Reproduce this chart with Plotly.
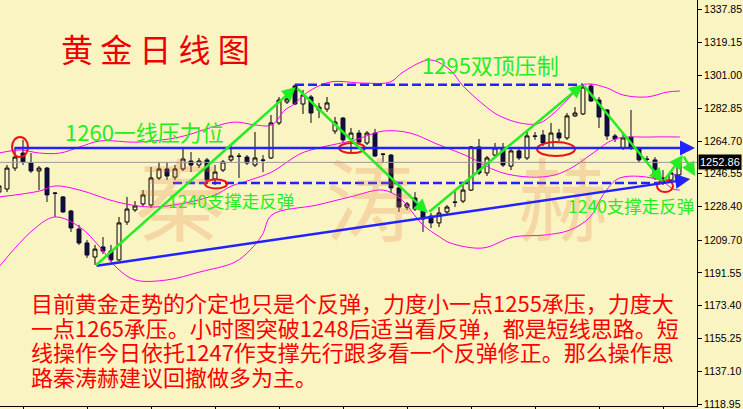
import plotly.graph_objects as go

# ---------------- data ----------------
idx = list(range(86))
opens = [1236.4, 1238.1, 1249.7, 1258.0, 1252.5, 1248.1, 1249.7, 1235.9, 1233.7, 1225.9,
         1215.9, 1208.2, 1200.4, 1206.0, 1203.7, 1198.8, 1219.8, 1226.5, 1229.8, 1229.2,
         1244.2, 1249.2, 1244.7, 1249.2, 1253.6, 1251.4, 1254.2, 1243.6, 1248.6, 1254.2,
         1256.4, 1255.8, 1251.4, 1254.2, 1255.3, 1274.7, 1286.3, 1295.2, 1285.2, 1289.1,
         1281.9, 1282.4, 1270.2, 1277.4, 1265.8, 1269.1, 1263.6, 1269.1, 1257.5, 1256.9,
         1238.7, 1228.1, 1233.1, 1226.5, 1223.1, 1219.3, 1225.4, 1230.9, 1231.4, 1237.5,
         1261.4, 1247.0, 1256.9, 1260.8, 1250.8, 1259.2, 1255.3, 1267.5, 1268.0, 1260.8,
         1269.1, 1266.4, 1278.6, 1279.7, 1295.2, 1287.4, 1281.9, 1267.5, 1260.8, 1266.9,
         1260.8, 1254.7, 1254.2, 1244.2, 1243.1, 1245.9]
highs = [1241.4, 1251.4, 1260.8, 1265.3, 1258.0, 1250.8, 1250.3, 1236.4, 1234.2, 1226.5,
         1218.2, 1209.8, 1207.1, 1211.5, 1207.1, 1222.6, 1233.7, 1231.4, 1237.5, 1250.3,
         1253.1, 1253.1, 1251.4, 1261.4, 1258.6, 1255.3, 1255.3, 1251.4, 1254.2, 1261.9,
         1258.0, 1256.9, 1269.7, 1256.9, 1279.1, 1289.1, 1293.0, 1296.3, 1293.0, 1290.2,
         1285.8, 1289.1, 1278.0, 1278.0, 1271.9, 1270.8, 1270.2, 1271.4, 1258.0, 1257.5,
         1239.2, 1230.9, 1236.4, 1228.1, 1224.8, 1228.1, 1229.2, 1237.5, 1240.3, 1261.9,
         1265.8, 1256.4, 1263.6, 1263.6, 1261.4, 1261.4, 1270.2, 1269.7, 1270.8, 1274.7,
         1271.4, 1280.2, 1283.5, 1295.7, 1296.3, 1289.1, 1282.4, 1268.6, 1269.1, 1281.9,
         1261.4, 1256.4, 1255.8, 1248.6, 1248.1, 1254.7]
lows = [1235.3, 1236.4, 1248.1, 1251.4, 1247.0, 1237.5, 1230.9, 1222.6, 1224.8, 1214.3,
        1207.1, 1199.9, 1196.0, 1202.1, 1197.6, 1198.2, 1218.2, 1225.4, 1228.7, 1227.6,
        1243.1, 1243.1, 1243.1, 1248.1, 1247.5, 1249.7, 1242.0, 1240.3, 1247.5, 1253.1,
        1244.2, 1251.4, 1250.3, 1247.5, 1254.7, 1273.6, 1285.2, 1284.7, 1279.7, 1274.7,
        1277.4, 1280.8, 1268.6, 1264.1, 1258.0, 1263.0, 1262.5, 1255.8, 1252.5, 1235.9,
        1225.4, 1226.5, 1225.9, 1214.3, 1216.5, 1217.0, 1223.7, 1228.1, 1230.3, 1237.0,
        1245.9, 1245.3, 1255.8, 1250.3, 1248.6, 1254.2, 1254.2, 1265.3, 1261.9, 1260.3,
        1264.7, 1265.3, 1278.0, 1279.1, 1286.3, 1271.9, 1265.3, 1264.1, 1259.7, 1259.7,
        1253.1, 1253.1, 1243.1, 1240.3, 1242.0, 1245.3]
closes = [1239.8, 1249.7, 1255.8, 1253.1, 1248.1, 1249.7, 1234.8, 1235.7, 1225.4, 1216.5,
          1208.2, 1201.5, 1204.8, 1203.7, 1198.8, 1219.3, 1227.0, 1228.7, 1234.8, 1244.2,
          1249.2, 1245.3, 1249.2, 1254.7, 1251.4, 1253.6, 1243.1, 1247.5, 1253.1, 1256.4,
          1256.2, 1252.5, 1255.3, 1254.0, 1274.7, 1287.4, 1288.0, 1285.2, 1290.2, 1280.2,
          1283.5, 1285.8, 1275.2, 1265.3, 1269.1, 1264.1, 1269.1, 1256.4, 1257.3, 1238.7,
          1228.1, 1229.8, 1227.0, 1221.5, 1219.3, 1224.8, 1228.1, 1230.7, 1237.5, 1261.4,
          1247.0, 1255.3, 1260.8, 1251.4, 1259.2, 1255.3, 1267.5, 1267.3, 1263.6, 1269.1,
          1266.4, 1278.6, 1280.2, 1294.6, 1286.9, 1278.0, 1267.5, 1265.8, 1266.4, 1260.8,
          1254.2, 1254.5, 1244.2, 1241.4, 1247.0, 1252.86]

# Bollinger bands (index, price)
upper_x = [0, 2.6, 5.1, 7.6, 10.1, 12.6, 17.4, 22.6, 26.75, 29.5, 32, 34.1, 35.75, 36.75,
           38.6, 41.4, 45.5, 48.9, 50.5, 53.9, 56.4, 58, 61.4, 62.6, 65.1, 67.6, 71.4,
           72.6, 73.9, 76, 78, 81, 83.5, 85.1]
upper_y = [1258.0, 1259.7, 1258.0, 1258.0, 1261.4, 1264.7, 1264.1, 1266.9, 1272.5, 1275.2,
           1273.6, 1273.6, 1281.9, 1284.7, 1291.8, 1297.4, 1296.8, 1297.4, 1302.9, 1309.6,
           1304.0, 1295.2, 1281.9, 1278.6, 1274.7, 1274.7, 1289.1, 1295.2, 1296.3, 1294.1,
           1290.2, 1289.1, 1291.8, 1292.4]
mid_x = [0, 5.1, 7, 10.1, 14.75, 18.9, 22.6, 27, 29.1, 31.4, 34.1, 37.6, 39.9, 44.5, 48,
         51.4, 54.75, 58.5, 62.6, 66.4, 69.5, 71.75, 74.25, 77, 81.4, 85.1]
mid_y = [1233.7, 1237.0, 1239.8, 1237.5, 1230.9, 1228.1, 1229.8, 1234.8, 1239.8, 1243.1,
         1247.5, 1257.5, 1260.8, 1265.3, 1270.2, 1269.1, 1263.0, 1256.4, 1247.5, 1244.7,
         1245.9, 1250.3, 1258.0, 1265.8, 1266.9, 1266.9]
lower_x = [0, 4.25, 7, 10.1, 12.6, 14.75, 17, 21, 25.1, 29.5, 31.4, 32.9, 34.1, 39.75,
           43.9, 48, 50.1, 53, 55.1, 56.4, 60.5, 64.25, 68.25, 71.4, 73.9, 75.5, 77.6,
           82.6, 84.25, 85.1]
lower_y = [1194.9, 1215.4, 1222.6, 1217.0, 1206.0, 1194.3, 1187.7, 1187.7, 1192.1, 1197.6,
           1204.3, 1212.6, 1223.7, 1229.2, 1233.7, 1237.5, 1233.1, 1218.2, 1211.5, 1208.2,
           1205.4, 1211.5, 1212.6, 1215.4, 1222.6, 1234.8, 1244.2, 1243.1, 1238.1, 1237.5]

tick_vals = [1337.85, 1319.15, 1301.00, 1282.85, 1264.70, 1246.55, 1228.40, 1209.70,
             1191.55, 1173.40, 1155.25, 1137.10, 1118.95]
tick_text = ["%.2f" % v for v in tick_vals]
last_price = 1252.86

resist_1260 = 1260.8
support_1240 = 1241.4
top_1295 = 1295.9

# zig-zag turning points (index, price)
zig_x = [12, 37.1, 53.6, 73.0, 83.0, 85.5, 87.0]
zig_y = [1195.4, 1294.6, 1224.8, 1296.0, 1242.0, 1256.9, 1245.3]
trend_x = [12, 86.4]
trend_y = [1195.4, 1243.6]

title_text = "黄金日线图"
label_1260 = "1260一线压力位"
label_1295 = "1295双顶压制"
label_1240 = "1240支撑走反弹"
para_lines = [
    "目前黄金走势的介定也只是个反弹，力度小一点1255承压，力度大",
    "一点1265承压。小时图突破1248后适当看反弹，都是短线思路。短",
    "线操作今日依托1247作支撑先行跟多看一个反弹修正。那么操作思",
    "路秦涛赫建议回撤做多为主。",
]
watermark = ["秦", "涛", "赫"]

# ---------------- figure ----------------
BG = "#faf3c2"
GREEN = "#22ee22"
BLUE = "#2222ff"
RED = "#ff0000"
MAG = "#ff00ff"
CJK = "Noto Sans CJK SC"
W, H = 743, 409
PW, PH = 697, 406


def fx(p):
    return p / PW


def fy(p):
    return 1 - p / PH


fig = go.Figure()

for bx, by in [(upper_x, upper_y), (mid_x, mid_y), (lower_x, lower_y)]:
    fig.add_trace(go.Scatter(x=bx, y=by, mode="lines", line=dict(color=MAG, width=1, shape="spline"),
                             hoverinfo="skip"))

fig.add_trace(go.Candlestick(
    x=idx, open=opens, high=highs, low=lows, close=closes,
    increasing=dict(line=dict(color="#000000", width=1), fillcolor=BG),
    decreasing=dict(line=dict(color="#0a0a30", width=1), fillcolor="#10103c"),
    whiskerwidth=0, hoverinfo="skip",
))

shapes = []
# current price line
shapes.append(dict(type="line", xref="paper", x0=0, x1=1, yref="y", y0=last_price, y1=last_price,
                   line=dict(color="#9a9a9a", width=1)))
# dashed support / double top
shapes.append(dict(type="line", xref="x", yref="y", x0=21.75, x1=82.6, y0=support_1240, y1=support_1240,
                   line=dict(color=BLUE, width=2.5, dash="9px,4px")))
shapes.append(dict(type="line", xref="x", yref="y", x0=37.0, x1=73.0, y0=top_1295, y1=top_1295,
                   line=dict(color=BLUE, width=2.5, dash="9px,4px")))
# red ellipses
for x0, x1, y0, y1 in [(1.625, 3.625, 1255.8, 1266.9), (25.75, 28.5, 1238.4, 1243.4),
                       (42.5, 45.75, 1258.0, 1263.6), (67.25, 72.0, 1256.4, 1264.1),
                       (82.25, 84.25, 1236.4, 1243.1)]:
    shapes.append(dict(type="circle", xref="x", yref="y", x0=x0, x1=x1, y0=y0, y1=y1,
                       line=dict(color="#ee1111", width=2)))

ann = []
# watermark
for ch, cx in zip(watermark, [180, 370, 563]):
    ann.append(dict(text=ch, xref="paper", yref="paper", x=fx(cx), y=fy(195), showarrow=False,
                    font=dict(family=CJK, size=90, color="rgba(232,125,70,0.24)"),
                    xanchor="center", yanchor="middle"))

# arrows: horizontal 1260, trend line, zigzag
ann.append(dict(x=87.0, y=resist_1260, ax=1.75, ay=resist_1260, xref="x", yref="y", axref="x", ayref="y",
                text="", showarrow=True, arrowhead=2, arrowsize=1.2, arrowwidth=2.5, arrowcolor=BLUE))
ann.append(dict(x=trend_x[1], y=trend_y[1], ax=trend_x[0], ay=trend_y[0], xref="x", yref="y",
                axref="x", ayref="y", text="", showarrow=True, arrowhead=2, arrowsize=1.2,
                arrowwidth=2.5, arrowcolor=BLUE))
for i in range(len(zig_x) - 1):
    ann.append(dict(x=zig_x[i + 1], y=zig_y[i + 1], ax=zig_x[i], ay=zig_y[i], xref="x", yref="y",
                    axref="x", ayref="y", text="", showarrow=True, arrowhead=2, arrowsize=1.1,
                    arrowwidth=2.5, arrowcolor=GREEN))

# texts
ann.append(dict(text=" ".join(title_text), xref="paper", yref="paper", x=fx(155), y=fy(48),
                showarrow=False, font=dict(family=CJK, size=32, color="#ee0000"),
                xanchor="center", yanchor="middle"))
ann.append(dict(text=label_1260, xref="paper", yref="paper", x=fx(63), y=fy(131), showarrow=False,
                font=dict(family=CJK, size=22, color=GREEN), xanchor="left", yanchor="middle"))
ann.append(dict(text=label_1295, xref="paper", yref="paper", x=fx(420), y=fy(64), showarrow=False,
                font=dict(family=CJK, size=22, color=GREEN), xanchor="left", yanchor="middle"))
ann.append(dict(text=label_1240, xref="paper", yref="paper", x=fx(166), y=fy(200), showarrow=False,
                font=dict(family=CJK, size=17.5, color=GREEN), xanchor="left", yanchor="middle"))
ann.append(dict(text=label_1240, xref="paper", yref="paper", x=fx(566), y=fy(205), showarrow=False,
                font=dict(family=CJK, size=17.5, color=GREEN), xanchor="left", yanchor="middle"))
for line, cy in zip(para_lines, [302, 327, 351, 376]):
    ann.append(dict(text=line, xref="paper", yref="paper", x=fx(29), y=fy(cy), showarrow=False,
                    font=dict(family=CJK, size=22, color=RED), xanchor="left", yanchor="middle"))
# current price tag
ann.append(dict(text="%.2f" % last_price, xref="paper", yref="y", x=1.0, y=last_price, showarrow=False,
                xanchor="left", yanchor="middle", bgcolor="#000000", borderpad=1, xshift=1,
                font=dict(family="Liberation Sans", size=11, color="#ffffff")))

fig.update_layout(
    width=W, height=H, margin=dict(l=0, r=W - PW, t=0, b=H - PH),
    paper_bgcolor=BG, plot_bgcolor=BG, showlegend=False, hovermode=False,
    shapes=shapes, annotations=ann,
    xaxis=dict(range=[0.125, 87.25], showgrid=False, zeroline=False, showticklabels=False,
               ticks="outside", ticklen=3, tickcolor="#000", tickvals=list(range(3, 86, 8)),
               showline=True, linecolor="#000", linewidth=1, rangeslider=dict(visible=False),
               fixedrange=True),
    yaxis=dict(range=[1117.84, 1342.84], side="right", showgrid=False, zeroline=False,
               tickvals=tick_vals, ticktext=tick_text, ticks="outside", ticklen=4, tickcolor="#000",
               showline=True, linecolor="#000", linewidth=1, automargin=False,
               ticklabeloverflow="allow",
               tickfont=dict(family="Liberation Sans", size=10.5, color="#000")),
)

fig.write_html("out.html", config={"displayModeBar": False, "staticPlot": True},
               post_script="document.body.style.margin='0px';document.body.style.background='%s';" % BG)
